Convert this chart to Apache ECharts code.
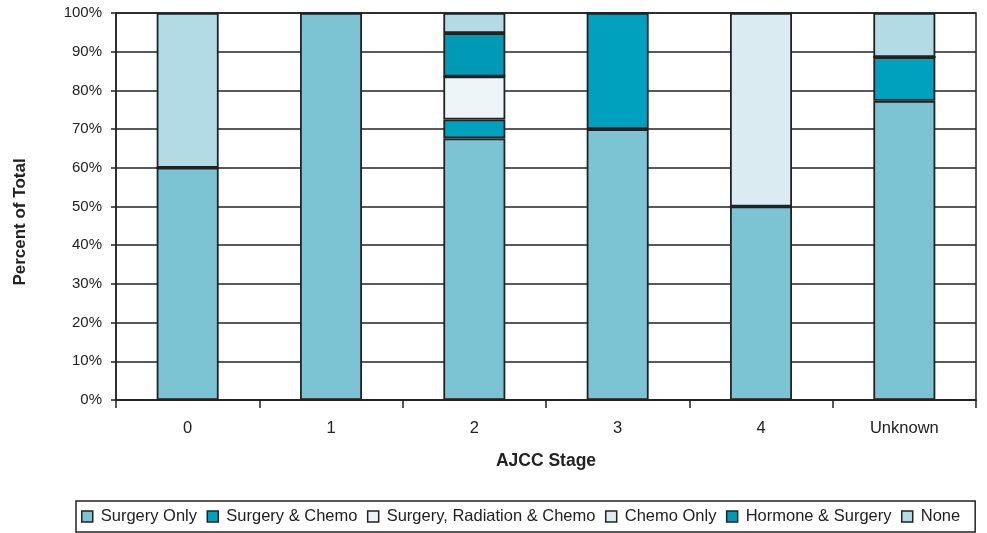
<!DOCTYPE html>
<html>
<head>
<meta charset="utf-8">
<script src="https://cdn.jsdelivr.net/npm/echarts@6/dist/echarts.min.js"></script>
<style>
  html, body { margin: 0; padding: 0; background: #fff; }
  #chart { width: 987px; height: 533px; }
</style>
</head>
<body>
<div id="chart"></div>
<script>
// AJCC stage categories
const stages = ['0', '1', '2', '3', '4', 'Unknown'];

// Percent of total per treatment, one value per stage
const surgeryOnly        = [60, 100, 67.6, 70, 50, 77.3];
const surgeryChemo       = [0, 0, 4.9, 30, 0, 11.3];
const surgeryRadChemo    = [0, 0, 11.1, 0, 0, 0];
const chemoOnly          = [0, 0, 0, 0, 50, 0];
const hormoneSurgery     = [0, 0, 11.2, 0, 0, 0];
const noneTreatment      = [40, 0, 5.2, 0, 0, 11.4];

const yTicks = [0, 10, 20, 30, 40, 50, 60, 70, 80, 90, 100];

const seriesDefs = [
  { name: 'Surgery Only', data: surgeryOnly, color: '#7cc3d4' },
  { name: 'Surgery & Chemo', data: surgeryChemo, color: '#00a1bf' },
  { name: 'Surgery, Radiation & Chemo', data: surgeryRadChemo, color: '#eef5f8' },
  { name: 'Chemo Only', data: chemoOnly, color: '#daecf1' },
  { name: 'Hormone & Surgery', data: hormoneSurgery, color: '#009ab7' },
  { name: 'None', data: noneTreatment, color: '#b3dbe5' }
];

const font = 'Liberation Sans, Arial, Helvetica, sans-serif';

const chart = echarts.init(document.getElementById('chart'), null, { renderer: 'canvas' });

chart.setOption({
  animation: false,
  backgroundColor: '#ffffff',
  textStyle: { fontFamily: font },
  grid: {
    left: 116, right: 11, top: 13, bottom: 133,
    show: true, borderColor: '#222', borderWidth: 1.5
  },
  legend: {
    bottom: 1,
    left: 76,
    width: 905,
    icon: 'rect',
    itemWidth: 11,
    itemHeight: 11,
    itemGap: 9.5,
    padding: [7, 15, 7, 5],
    borderColor: '#222',
    borderWidth: 1.5,
    textStyle: { fontFamily: font, fontSize: 16.5, color: '#222', padding: [0, 0, 0, 3] },
    itemStyle: { borderColor: '#222', borderWidth: 1.5 },
    data: seriesDefs.map(s => s.name)
  },
  graphic: [{
    type: 'text',
    x: 20,
    y: 222,
    rotation: Math.PI / 2,
    style: {
      text: 'Percent of Total',
      font: 'bold 17px ' + font,
      fill: '#222',
      align: 'center',
      verticalAlign: 'middle'
    }
  }],
  xAxis: {
    type: 'category',
    data: stages,
    name: 'AJCC Stage',
    nameLocation: 'middle',
    nameGap: 52,
    nameTextStyle: { fontFamily: font, fontSize: 17.5, fontWeight: 'bold', color: '#222' },
    axisLine: { lineStyle: { color: '#222', width: 1.5 } },
    axisTick: { show: true, length: 8, lineStyle: { color: '#222', width: 1.5 } },
    axisLabel: { margin: 20, fontSize: 16.5, color: '#222', fontFamily: font }
  },
  yAxis: {
    type: 'value',
    min: yTicks[0],
    max: yTicks[yTicks.length - 1],
    interval: 10,
    axisLine: { show: true, lineStyle: { color: '#222', width: 1.5 } },
    axisTick: { show: true, length: 5, lineStyle: { color: '#222', width: 1.5 } },
    axisLabel: { margin: 14, fontSize: 15, color: '#222', fontFamily: font, formatter: '{value}%' },
    splitLine: { show: true, lineStyle: { color: '#222', width: 1.5 } }
  },
  series: seriesDefs.map(s => ({
    name: s.name,
    type: 'bar',
    stack: 'total',
    barWidth: 62,
    data: s.data,
    itemStyle: { color: s.color, borderColor: '#222', borderWidth: 1.8 }
  }))
});
</script>
</body>
</html>
